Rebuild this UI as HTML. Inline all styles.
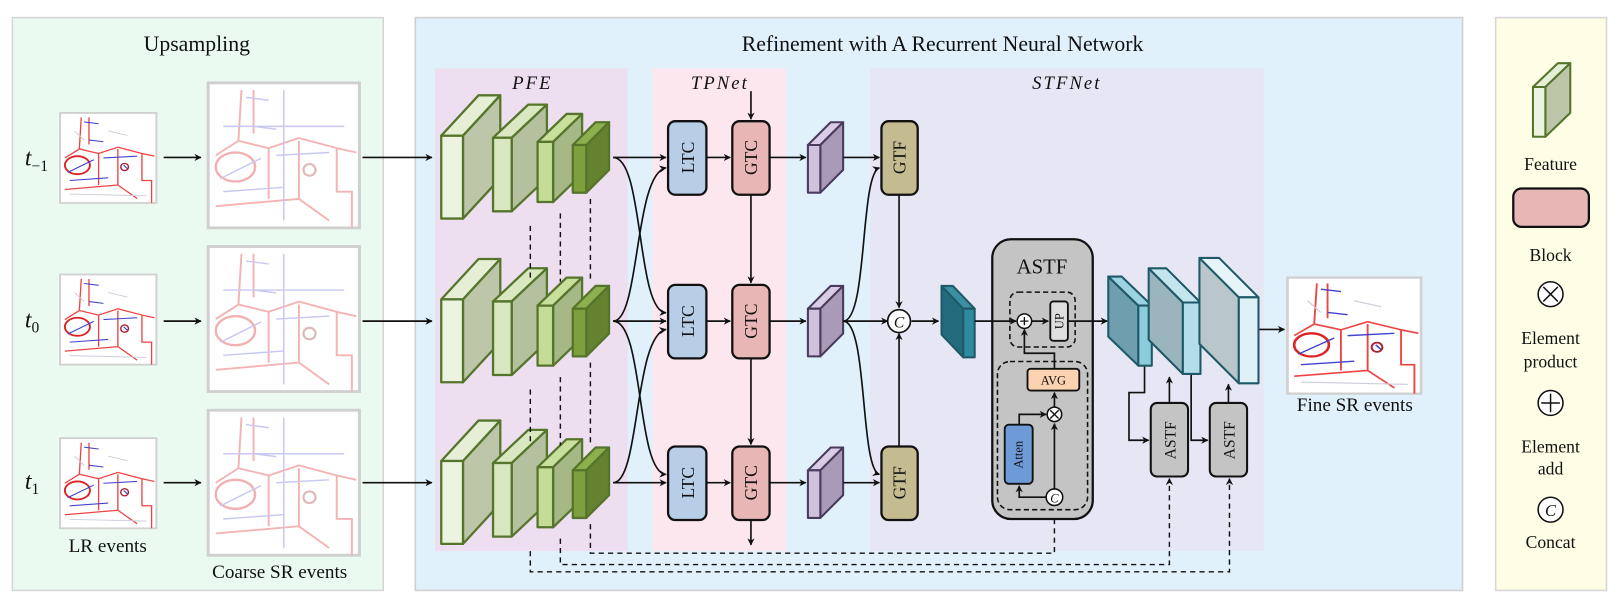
<!DOCTYPE html>
<html><head><meta charset="utf-8"><style>
html,body{margin:0;padding:0;background:#fff;}
svg{display:block;}
text{font-family:"Liberation Serif","DejaVu Serif",serif;fill:#111;}
</style></head><body>
<svg width="1621" height="606" viewBox="0 0 1565 585" preserveAspectRatio="none" xmlns="http://www.w3.org/2000/svg">
<defs>
<marker id="ah" viewBox="0 0 10 10" refX="9" refY="5" markerWidth="7" markerHeight="7" orient="auto-start-reverse" markerUnits="userSpaceOnUse"><path d="M0,0 L10,5 L0,10 L3,5 z" fill="#111"/></marker>
<g id="ev">
<rect x="0" y="0" width="100" height="100" fill="#fff" stroke="#d0d0d0" stroke-width="2"/>
<path d="M5,50 L20,40 L40,45 L60,38 L85,45 L98,48 M20,40 L22,5 M30,5 L30,35 M40,45 L40,80 M60,40 L60,80 M85,45 L85,75 L95,75 L95,100 M5,85 L60,80 L80,95" fill="none" stroke="#e44" stroke-width="1.4"/>
<ellipse cx="18" cy="58" rx="13" ry="10" fill="none" stroke="#d22" stroke-width="2"/>
<path d="M8,66 L35,52 M25,10 L40,12 M30,30 L45,32 M66,58 L70,62 M45,50 L80,48 M10,75 L50,72" fill="none" stroke="#44c" stroke-width="1.2"/>
<path d="M10,90 L90,92 M15,20 L25,30 M50,20 L70,25" fill="none" stroke="#ccd" stroke-width="1"/>
<circle cx="67" cy="60" r="4" fill="none" stroke="#a23" stroke-width="1.5"/>
</g>
<g id="evf">
<rect x="0" y="0" width="100" height="100" fill="#fff" stroke="#d0d0d0" stroke-width="2"/>
<path d="M5,50 L20,40 L40,45 L60,38 L85,45 L98,48 M20,40 L22,5 M30,5 L30,35 M40,45 L40,80 M60,40 L60,80 M85,45 L85,75 L95,75 L95,100 M5,85 L60,80 L80,95" fill="none" stroke="#f4b4b4" stroke-width="1.3"/>
<ellipse cx="18" cy="58" rx="13" ry="10" fill="none" stroke="#f2b0b0" stroke-width="1.6"/>
<path d="M8,66 L35,52 M25,10 L40,12 M30,30 L45,32 M45,50 L80,48 M10,75 L50,72 M10,30 L90,30 M50,5 L50,95" fill="none" stroke="#c8c8f2" stroke-width="1"/>
<circle cx="67" cy="60" r="4" fill="none" stroke="#dbb" stroke-width="1.5"/>
</g>
<g id="rowshapes">
<g stroke="#56752c" stroke-width="2.2" stroke-linejoin="round">
<polygon points="426,131 447,131 483,92 462,92" fill="#e6efd6"/><polygon points="447,131 483,92 483,172 447,211" fill="#bec6aa"/><rect x="426" y="131" width="21" height="80" fill="#ecf3e0"/>
<polygon points="476,133 494,133 528,101 510,101" fill="#d9e8c0"/><polygon points="494,133 528,101 528,172 494,204" fill="#b5c19e"/><rect x="476" y="133" width="18" height="71" fill="#d8e7c0"/>
<polygon points="519,137 534,137 562,110 547,110" fill="#c9df9c"/><polygon points="534,137 562,110 562,168 534,195" fill="#a6b886"/><rect x="519" y="137" width="15" height="58" fill="#c5dc96"/>
<polygon points="553,140 566,140 588,118 575,118" fill="#8db04e"/><polygon points="566,140 588,118 588,164 566,186" fill="#648230"/><rect x="553" y="140" width="13" height="46" fill="#7ea03c"/>
</g>
<rect x="645" y="117" width="37" height="71" rx="7" fill="#b8cde6" stroke="#111" stroke-width="2.2"/>
<rect x="707" y="117" width="36" height="71" rx="7" fill="#e8b6b4" stroke="#111" stroke-width="2.2"/>
<g stroke="#4a3a5e" stroke-width="2" stroke-linejoin="round">
<polygon points="780,140 792,140 814,118 802,118" fill="#d8cce6"/><polygon points="792,140 814,118 814,164 792,186" fill="#a99ab8"/><rect x="780" y="140" width="12" height="46" fill="#cfc2dc"/>
</g>
<path d="M682,152 L705,152" stroke="#111" stroke-width="1.6" marker-end="url(#ah)"/>
<path d="M743,152 L778,152" stroke="#111" stroke-width="1.6" marker-end="url(#ah)"/>
</g>
</defs>

<!-- panels -->
<rect x="12" y="17" width="358" height="553" fill="#eafaf0" stroke="#d6d6d6" stroke-width="1.5"/>
<rect x="401" y="17" width="1011" height="553" fill="#e1f1fc" stroke="#cfcfcf" stroke-width="1.5"/>
<rect x="1444" y="17" width="107" height="553" fill="#fefde6" stroke="#d6d6d6" stroke-width="1.5"/>
<rect x="420" y="66" width="186" height="466" fill="#eddff0"/>
<rect x="630" y="66" width="129" height="466" fill="#fde7ef"/>
<rect x="840" y="66" width="380" height="466" fill="#e7e6f4"/>

<text x="190" y="49" font-size="21" text-anchor="middle">Upsampling</text>
<text x="910" y="49" font-size="21" text-anchor="middle">Refinement with A Recurrent Neural Network</text>
<text x="514" y="86" font-size="18" font-style="italic" text-anchor="middle" letter-spacing="2">PFE</text>
<text x="695" y="86" font-size="18" font-style="italic" text-anchor="middle" letter-spacing="2">TPNet</text>
<text x="1030" y="86" font-size="18" font-style="italic" text-anchor="middle" letter-spacing="2">STFNet</text>

<!-- time labels -->
<text x="24" y="160" font-size="23" font-style="italic">t<tspan font-size="15" font-style="normal" dy="5">−1</tspan></text>
<text x="24" y="316" font-size="23" font-style="italic">t<tspan font-size="15" font-style="normal" dy="5">0</tspan></text>
<text x="24" y="472" font-size="23" font-style="italic">t<tspan font-size="15" font-style="normal" dy="5">1</tspan></text>

<!-- images -->
<use href="#ev" transform="translate(58,109) scale(0.93,0.87)"/>
<use href="#ev" transform="translate(58,265) scale(0.93,0.87)"/>
<use href="#ev" transform="translate(58,423) scale(0.93,0.87)"/>
<use href="#evf" transform="translate(201,80) scale(1.46,1.4)"/>
<use href="#evf" transform="translate(201,238) scale(1.46,1.4)"/>
<use href="#evf" transform="translate(201,396) scale(1.46,1.4)"/>
<use href="#ev" transform="translate(1243,268) scale(1.29,1.12)"/>
<text x="104" y="533" font-size="18.5" text-anchor="middle">LR events</text>
<text x="270" y="558" font-size="18.5" text-anchor="middle">Coarse SR events</text>
<text x="1308" y="397" font-size="18.5" text-anchor="middle">Fine SR events</text>

<g stroke="#111" stroke-width="1.6" fill="none" marker-end="url(#ah)">
<path d="M158,152 L194,152"/><path d="M158,310 L194,310"/><path d="M158,466 L194,466"/>
<path d="M350,152 L417,152"/><path d="M350,310 L417,310"/><path d="M350,466 L417,466"/>
</g>

<!-- rows -->
<use href="#rowshapes"/>
<use href="#rowshapes" y="158"/>
<use href="#rowshapes" y="314"/>
<g font-size="17" text-anchor="middle">
<text transform="translate(670,152) rotate(-90)">LTC</text>
<text transform="translate(731,152) rotate(-90)">GTC</text>
<text transform="translate(670,310) rotate(-90)">LTC</text>
<text transform="translate(731,310) rotate(-90)">GTC</text>
<text transform="translate(670,466) rotate(-90)">LTC</text>
<text transform="translate(731,466) rotate(-90)">GTC</text>
</g>

<!-- dashed PFE verticals -->
<g stroke="#111" stroke-width="1.4" stroke-dasharray="5,4" fill="none">
<path d="M512,218 L512,272"/><path d="M541,206 L541,272"/><path d="M570,192 L570,272"/>
<path d="M512,376 L512,430"/><path d="M541,364 L541,430"/><path d="M570,350 L570,430"/>
<path d="M512,532 L512,552 L1187,552 L1187,462" marker-end="url(#ah)"/>
<path d="M541,520 L541,545 L1129,545 L1129,462" marker-end="url(#ah)"/>
<path d="M570,506 L570,534 L1018,534 L1018,489" marker-end="url(#ah)"/>
</g>

<!-- connections -->
<g stroke="#111" stroke-width="1.6" fill="none" marker-end="url(#ah)">
<path d="M592,152 L643,152"/><path d="M592,310 L643,310"/><path d="M592,466 L643,466"/>
<path d="M592,152 C622,152 614,300 643,302"/>
<path d="M592,310 C618,310 612,168 643,162"/>
<path d="M592,310 C622,310 614,456 643,458"/>
<path d="M592,466 C618,466 612,324 643,318"/>
<path d="M725,88 L725,115"/><path d="M725,188 L725,273"/><path d="M725,346 L725,429"/><path d="M725,502 L725,526"/>
<path d="M814,152 L849,152"/><path d="M814,466 L849,466"/>
<path d="M814,310 L857,310"/>
<path d="M814,310 C838,310 830,168 849,162"/>
<path d="M814,310 C838,310 830,452 849,458"/>
<path d="M868,188 L868,297"/><path d="M868,431 L868,322"/>
<path d="M880,310 L906,310"/>
<path d="M1105,352 L1105,379 L1090,379 L1090,425 L1109,425"/>
<path d="M1150,361 L1150,425 L1166,425"/>
<path d="M1129,389 L1129,364"/>
<path d="M1186,389 L1186,371"/>
<path d="M1215,318 L1240,318"/>
</g>

<!-- GTF -->
<rect x="851" y="117" width="35" height="71" rx="7" fill="#c5bb90" stroke="#111" stroke-width="2.2"/>
<rect x="851" y="431" width="35" height="71" rx="7" fill="#c5bb90" stroke="#111" stroke-width="2.2"/>
<text transform="translate(874,152) rotate(-90)" font-size="17" text-anchor="middle">GTF</text>
<text transform="translate(874,466) rotate(-90)" font-size="17" text-anchor="middle">GTF</text>
<circle cx="868" cy="310" r="11" fill="#fff" stroke="#111" stroke-width="1.6"/>
<text x="868" y="316" font-size="15" font-style="italic" text-anchor="middle">C</text>

<!-- teal feature -->
<g stroke="#1f5866" stroke-width="2" stroke-linejoin="round">
<polygon points="930,298 909,276 909,323 930,345" fill="#236b7c"/><polygon points="930,298 941,298 920,276 909,276" fill="#3a8fa3"/><rect x="930" y="298" width="11" height="47" fill="#2e8aa0"/>
</g>

<!-- ASTF big -->
<rect x="958" y="231" width="97" height="270" rx="18" fill="#c4c4c4" stroke="#111" stroke-width="2.2"/>
<text x="1006" y="264" font-size="20" text-anchor="middle">ASTF</text>
<rect x="975" y="282" width="63" height="53" rx="8" fill="none" stroke="#111" stroke-width="1.5" stroke-dasharray="5,3"/>
<rect x="963" y="349" width="87" height="143" rx="12" fill="none" stroke="#111" stroke-width="1.5" stroke-dasharray="5,3"/>
<g stroke="#111" stroke-width="1.6" fill="none" marker-end="url(#ah)">
<path d="M941,310 L981,310"/>
<path d="M996,310 L1012,310"/>
<path d="M1031,310 L1069,310"/>
<path d="M1018,356 L1018,341 L989,341 L989,318"/>
<path d="M1018,393 L1018,379"/>
<path d="M984,410 L984,400 L1010,400"/>
<path d="M1018,472 L1018,409"/>
<path d="M1010,480 L984,480 L984,469"/>
</g>
<circle cx="989" cy="310" r="7" fill="#fff" stroke="#111" stroke-width="1.5"/>
<path d="M985,310 L993,310 M989,306 L989,314" stroke="#111" stroke-width="1.3"/>
<rect x="1014" y="291" width="17" height="38" rx="3" fill="#dedede" stroke="#111" stroke-width="1.8"/>
<text transform="translate(1027,310) rotate(-90)" font-size="12" text-anchor="middle">UP</text>
<rect x="992" y="356" width="50" height="21" rx="3" fill="#fbd3b0" stroke="#111" stroke-width="1.8"/>
<text x="1017" y="371" font-size="12" text-anchor="middle">AVG</text>
<rect x="970" y="410" width="27" height="57" rx="4" fill="#6f9ad8" stroke="#111" stroke-width="1.8"/>
<text transform="translate(987,439) rotate(-90)" font-size="12" text-anchor="middle">Atten</text>
<circle cx="1018" cy="400" r="7" fill="#fff" stroke="#111" stroke-width="1.5"/>
<path d="M1014,396 L1022,404 M1022,396 L1014,404" stroke="#111" stroke-width="1.3"/>
<circle cx="1018" cy="480" r="8" fill="#fff" stroke="#111" stroke-width="1.5"/>
<text x="1018" y="485" font-size="12" font-style="italic" text-anchor="middle">C</text>

<!-- blue features -->
<g stroke="#1f5866" stroke-width="2" stroke-linejoin="round">
<polygon points="1099,295 1070,267 1070,325 1099,353" fill="#6f9faf"/><polygon points="1099,295 1112,295 1083,267 1070,267" fill="#9bd3e1"/><rect x="1099" y="295" width="13" height="58" fill="#8ccddd"/>
<polygon points="1142,292 1109,259 1109,328 1142,361" fill="#9ab5be"/><polygon points="1142,292 1159,292 1126,259 1109,259" fill="#c3e5ee"/><rect x="1142" y="292" width="17" height="69" fill="#b3dde8"/>
<polygon points="1196,287 1158,249 1158,332 1196,370" fill="#b9c7cc"/><polygon points="1196,287 1215,287 1177,249 1158,249" fill="#e5f4f8"/><rect x="1196" y="287" width="19" height="83" fill="#dff1f6"/>
</g>
<rect x="1111" y="389" width="36" height="71" rx="6" fill="#c4c4c4" stroke="#111" stroke-width="2"/>
<rect x="1168" y="389" width="36" height="71" rx="6" fill="#c4c4c4" stroke="#111" stroke-width="2"/>
<text transform="translate(1135,425) rotate(-90)" font-size="15" text-anchor="middle">ASTF</text>
<text transform="translate(1192,425) rotate(-90)" font-size="15" text-anchor="middle">ASTF</text>

<!-- legend -->
<g stroke="#56752c" stroke-width="2" stroke-linejoin="round">
<polygon points="1480,84 1492,84 1516,61 1504,61" fill="#e6efd6"/><polygon points="1492,84 1516,61 1516,109 1492,132" fill="#bec6aa"/><rect x="1480" y="84" width="12" height="48" fill="#ecf3e0"/>
</g>
<text x="1497" y="164" font-size="17" text-anchor="middle">Feature</text>
<rect x="1461" y="182" width="73" height="37" rx="8" fill="#e8b6b4" stroke="#111" stroke-width="2.2"/>
<text x="1497" y="252" font-size="17" text-anchor="middle">Block</text>
<circle cx="1497" cy="284" r="12" fill="#fff" stroke="#111" stroke-width="1.5"/>
<path d="M1490,277 L1504,291 M1504,277 L1490,291" stroke="#111" stroke-width="1.4"/>
<text x="1497" y="332" font-size="17" text-anchor="middle">Element</text>
<text x="1497" y="355" font-size="17" text-anchor="middle">product</text>
<circle cx="1497" cy="389" r="12" fill="#fff" stroke="#111" stroke-width="1.5"/>
<path d="M1488,389 L1506,389 M1497,380 L1497,398" stroke="#111" stroke-width="1.4"/>
<text x="1497" y="437" font-size="17" text-anchor="middle">Element</text>
<text x="1497" y="458" font-size="17" text-anchor="middle">add</text>
<circle cx="1497" cy="492" r="12" fill="#fff" stroke="#111" stroke-width="1.5"/>
<text x="1497" y="498" font-size="16" font-style="italic" text-anchor="middle">C</text>
<text x="1497" y="529" font-size="17" text-anchor="middle">Concat</text>
</svg>
</body></html>
